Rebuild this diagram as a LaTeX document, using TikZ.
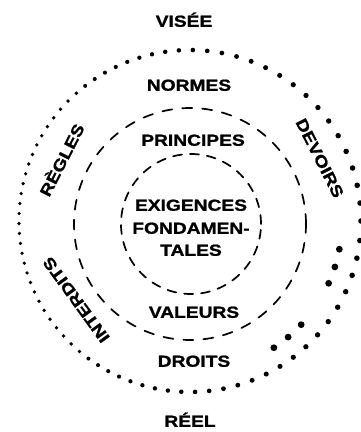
\documentclass[tikz,border=0pt]{standalone}
\usepackage{fontspec}
\newfontfamily\lab{Liberation Sans}[FakeStretch=1.2,FakeBold=1.2]
\begin{document}
\begin{tikzpicture}[x=1pt,y=1pt,
  lbl/.style={font=\lab\bfseries\fontsize{16}{18}\selectfont, text height=11.5pt, text depth=0pt, inner sep=0pt},
  ring/.style={line width=1.7pt, line cap=round},
  bigdot/.style={fill=black}]
\useasboundingbox (-190pt,-211pt) rectangle (171pt,221pt);
% outer dotted ring
\xdef\ang{0}
\foreach \i in {1,...,84}{
  \pgfmathparse{\ang<355.5}
  \ifnum\pgfmathresult=1
    \pgfmathsetmacro\rd{2.3+0.5*cos(\ang)}
    \fill (\ang:171pt) circle (\rd pt);
  \fi
  \pgfmathparse{\ang+(14+4*cos(\ang))/171*57.2958}
  \xdef\ang{\pgfmathresult}
}
% extra larger dots
\foreach \a in {-10.7,-17.6,-24.2,-43,-49.8,-56.5}
  \fill[bigdot] (\a:152pt) circle (3.4pt);
% dashed rings
\coordinate (c) at (0pt,-3pt);
\draw[ring, dash pattern=on 10pt off 10pt] (c) circle (116pt);
\draw[ring, dash pattern=on 9pt off 8pt] ([xshift=1pt]c) circle (70pt);
% labels
\node[lbl] (visee) at (-6pt,200pt) {VISÉE};
\node[lbl] (normes) at (-1pt,136pt) {NORMES};
\node[lbl] (principes) at (3pt,81pt) {PRINCIPES};
\node[lbl] (exig) at (1pt,16pt) {EXIGENCES};
\node[lbl] (fond) at (1pt,-7pt) {FONDAMEN-};
\node[lbl] (tales) at (1pt,-29pt) {TALES};
\node[lbl] (valeurs) at (4pt,-91pt) {VALEURS};
\node[lbl] (droits) at (4pt,-140pt) {DROITS};
\node[lbl] (reel) at (0pt,-200pt) {RÉEL};
\node[lbl, rotate=63] (regles) at (-128pt,61pt) {RÈGLES};
\node[lbl, rotate=-63] (devoirs) at (130pt,63pt) {DEVOIRS};
\node[lbl, rotate=126] (interdits) at (-114pt,-79pt) {INTERDITS};
\end{tikzpicture}
\end{document}
